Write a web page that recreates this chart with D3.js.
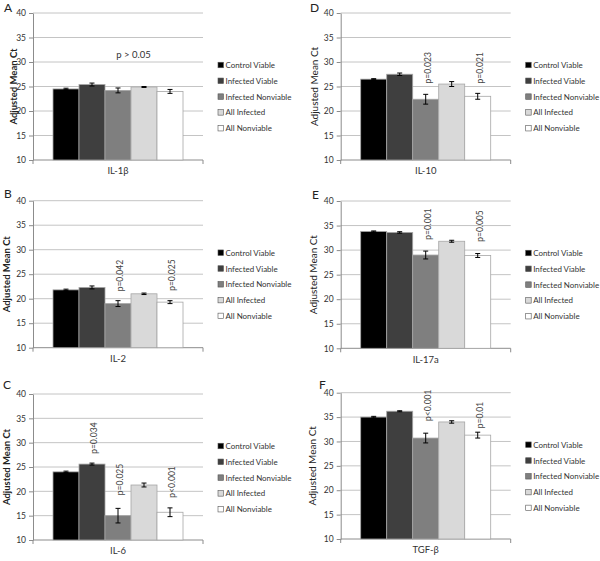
<!DOCTYPE html>
<html><head><meta charset="utf-8">
<script src="https://cdn.jsdelivr.net/npm/d3@7"></script>
<style>
body{margin:0;background:#fff;}
svg{display:block;font-family:Lato,"Liberation Sans",sans-serif;}
</style>
</head><body>
<svg id="chart" width="600" height="561"></svg>
<script>
// ---------- data ----------
const groups = ["Control Viable","Infected Viable","Infected Nonviable","All Infected","All Nonviable"];
const groupColors = ["#000000","#3f3f3f","#7f7f7f","#d9d9d9","#ffffff"];
const cytokines = ["IL-1β","IL-2","IL-6","IL-10","IL-17a","TGF-β"];
const panelLetters = ["A","B","C","D","E","F"];
const yTicks = [10,15,20,25,30,35,40];
const yTitle = "Adjusted Mean Ct";
// mean Ct per cytokine (rows) per group (columns)
const means = [
  [24.5, 25.4, 24.2, 24.9, 24.0],
  [21.8, 22.3, 19.0, 21.0, 19.3],
  [24.0, 25.6, 15.0, 21.3, 15.7],
  [26.5, 27.5, 22.4, 25.5, 23.0],
  [33.8, 33.6, 29.0, 31.8, 28.9],
  [35.0, 36.2, 30.7, 34.0, 31.3]
];
const errors = [
  [0.15, 0.3, 0.5, 0.1, 0.4],
  [0.15, 0.3, 0.6, 0.15, 0.3],
  [0.15, 0.2, 1.5, 0.4, 0.9],
  [0.1, 0.25, 1.0, 0.5, 0.6],
  [0.1, 0.15, 0.8, 0.2, 0.4],
  [0.15, 0.1, 1.0, 0.25, 0.6]
];
// p-value annotations: bar index, text, value where label starts, rotated?
const pLabels = [
  [{bar:2.6, text:"p > 0.05", at:31.6, rot:false}],
  [{bar:2, text:"p=0.042", at:21.5, rot:true},{bar:4, text:"p=0.025", at:21.6, rot:true}],
  [{bar:1, text:"p=0.034", at:27.7, rot:true},{bar:2, text:"p=0.025", at:19.2, rot:true},{bar:4, text:"p<0.001", at:18.7, rot:true}],
  [{bar:2, text:"p=0.023", at:25.6, rot:true},{bar:4, text:"p=0.021", at:25.6, rot:true}],
  [{bar:2, text:"p=0.001", at:32.1, rot:true},{bar:4, text:"p=0.005", at:31.7, rot:true}],
  [{bar:2, text:"p<0.001", at:34.2, rot:true},{bar:4, text:"p=0.01", at:32.7, rot:true}]
];
const titleBold = [true,true,true,false,false,false];

// ---------- layout ----------
const layout = [
  {left:33,  top:13,    bottom:160,   titleX:13,    letterX:4,   letterY:11.5},
  {left:33,  top:200.7, bottom:347.7, titleX:6,     letterX:4,   letterY:197.5},
  {left:33,  top:394,   bottom:540,   titleX:6,     letterX:3,   letterY:389},
  {left:340.7, top:13,  bottom:160,   titleX:313.5, letterX:310, letterY:12},
  {left:340.7, top:201, bottom:348.3, titleX:313,   letterX:312, letterY:198.5},
  {left:340.7, top:392.7, bottom:539, titleX:312,   letterX:319, letterY:389}
];
const plotW = 170;

const svg = d3.select("#chart");

// pick a legend font: prefer a narrow face if installed, sized so the longest entry fits ~66px
function measure(family) {
  const t = svg.append("text").attr("font-size", 10).attr("font-family", family).text("Infected Nonviable");
  const w = t.node().getComputedTextLength();
  t.remove();
  return w;
}
const latoW = measure("Lato");
const narrowW = measure("'Liberation Sans Narrow', Lato");
let legendFamily = "Lato", legendW = latoW;
if (Math.abs(narrowW - latoW) > 0.5 && narrowW < latoW) { legendFamily = "'Liberation Sans Narrow'"; legendW = narrowW; }
const legendFont = Math.min(9, 10 * 66 / legendW);

cytokines.forEach((cyt, pi) => {
  const L = layout[pi];
  const g = svg.append("g");
  const y = d3.scaleLinear().domain([10,40]).range([L.bottom, L.top]);
  const x = d3.scaleBand().domain([cyt]).range([L.left, L.left+plotW]).paddingInner(0).paddingOuter(0.1538);
  const xg = d3.scaleBand().domain(groups).range([0, x.bandwidth()]).padding(0);
  const barCenter = i => x(cyt) + xg.step()*(i+0.5);

  // gridlines
  g.append("g").selectAll("line").data(yTicks.filter(t => t > 10)).join("line")
    .attr("x1", L.left).attr("x2", L.left+plotW)
    .attr("y1", d => y(d)).attr("y2", d => y(d))
    .attr("stroke", "#c4c4c4").attr("stroke-width", 1);

  // y axis
  const ya = g.append("g").attr("transform", `translate(${L.left},0)`)
    .call(d3.axisLeft(y).tickValues(yTicks).tickSize(4).tickSizeOuter(0).tickPadding(3));
  ya.select(".domain").attr("stroke", "#8c8c8c");
  ya.selectAll(".tick line").attr("stroke", "#8c8c8c");
  ya.selectAll(".tick text").attr("font-size", 8.5).attr("fill", "#333").attr("font-family", "Lato");

  // x axis
  const xa = g.append("g").attr("transform", `translate(0,${L.bottom})`)
    .call(d3.axisBottom(x).tickSize(0).tickPadding(7.5));
  xa.select(".domain").attr("stroke", "#8c8c8c").attr("d", `M${L.left},4V0H${L.left+plotW}V4`);
  xa.selectAll(".tick text").attr("font-size", 9.5).attr("fill", "#333").attr("font-family", "Lato");

  // bars
  g.append("g").selectAll("rect").data(means[pi]).join("rect")
    .attr("x", (d,i) => x(cyt) + xg(groups[i]))
    .attr("width", xg.bandwidth())
    .attr("y", d => y(d))
    .attr("height", d => y(10) - y(d))
    .attr("fill", (d,i) => groupColors[i])
    .attr("stroke", "#a6a6a6").attr("stroke-width", 0.8);

  // error bars
  const eb = g.append("g").selectAll("g").data(means[pi]).join("g");
  eb.append("line")
    .attr("x1", (d,i) => barCenter(i)).attr("x2", (d,i) => barCenter(i))
    .attr("y1", (d,i) => y(d + errors[pi][i])).attr("y2", (d,i) => y(d - errors[pi][i]))
    .attr("stroke", "#000").attr("stroke-width", 1);
  [1,-1].forEach(s => {
    eb.append("line")
      .attr("x1", (d,i) => barCenter(i)-2.5).attr("x2", (d,i) => barCenter(i)+2.5)
      .attr("y1", (d,i) => y(d + s*errors[pi][i])).attr("y2", (d,i) => y(d + s*errors[pi][i]))
      .attr("stroke", "#000").attr("stroke-width", 1);
  });

  // p labels
  pLabels[pi].forEach(p => {
    const cx = barCenter(p.bar);
    if (p.rot) {
      g.append("text")
        .attr("transform", `translate(${cx+2},${y(p.at)}) rotate(-90)`)
        .attr("text-anchor", "start").attr("dominant-baseline", "central")
        .attr("font-size", 8.5).attr("fill", "#444").text(p.text);
    } else {
      g.append("text")
        .attr("x", cx).attr("y", y(p.at))
        .attr("text-anchor", "middle").attr("dominant-baseline", "central")
        .attr("font-size", 9.5).attr("fill", "#333").text(p.text);
    }
  });

  // y title
  g.append("text")
    .attr("transform", `translate(${L.titleX},${(L.top+L.bottom)/2}) rotate(-90)`)
    .attr("text-anchor", "middle").attr("dominant-baseline", "central")
    .attr("font-size", titleBold[pi] ? 9.5 : 10)
    .attr("font-weight", titleBold[pi] ? "bold" : "normal")
    .attr("fill", "#222").text(yTitle);

  // panel letter
  g.append("text").attr("x", L.letterX).attr("y", L.letterY)
    .attr("font-size", 12).attr("fill", "#222").text(panelLetters[pi]);

  // legend
  const lx = L.left + 185, ly = L.top + 52;
  const lg = g.append("g").selectAll("g").data(groups).join("g")
    .attr("transform", (d,i) => `translate(${lx},${ly + i*15.8})`);
  lg.append("rect").attr("x", 0).attr("y", -2.75).attr("width", 5.5).attr("height", 5.5)
    .attr("fill", (d,i) => groupColors[i]).attr("stroke", "#555").attr("stroke-width", 0.6);
  lg.append("text").attr("x", 7.5).attr("y", 0).attr("dominant-baseline", "central")
    .attr("font-size", legendFont).attr("font-family", legendFamily).attr("fill", "#333").text(d => d);
});
</script>
</body></html>
